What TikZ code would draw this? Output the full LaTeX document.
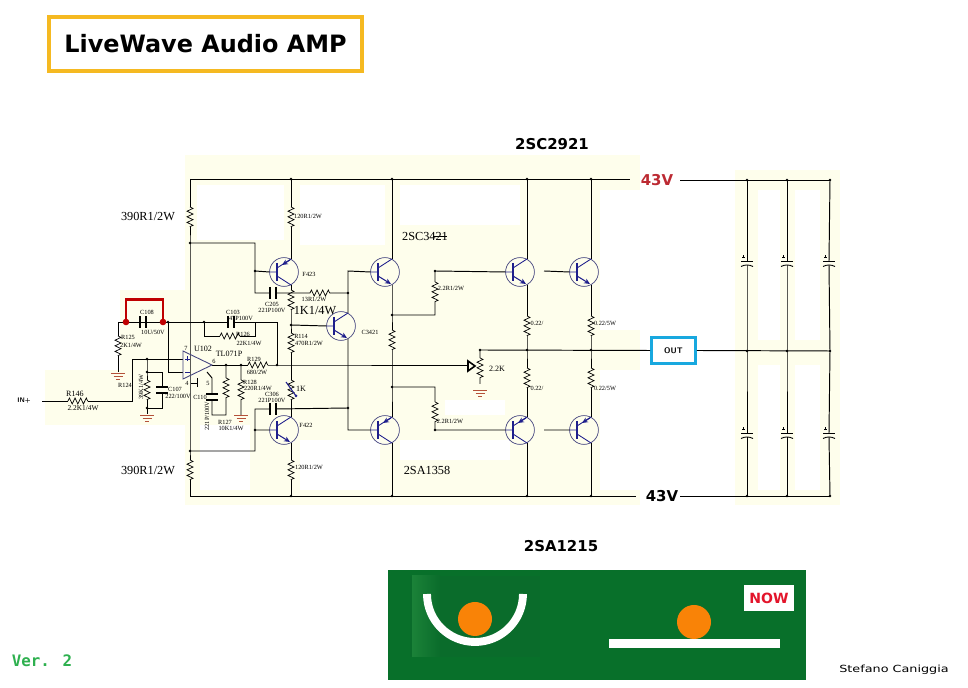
\documentclass[tikz,border=0pt]{standalone}
\usepackage{fontspec}
\setmainfont{Liberation Serif}
\newfontfamily\dejab{DejaVu Sans}
\newfontfamily\dejaw[FakeStretch=1.3]{DejaVu Sans}
\newfontfamily\dejam{DejaVu Sans Mono}
\usepackage{tkz-euclide}
\usetikzlibrary{arrows.meta,decorations.pathmorphing}
\definecolor{pale}{HTML}{FEFEEC}
\definecolor{qblue}{HTML}{1F1F8C}
\definecolor{qring}{HTML}{45457F}
\definecolor{earth}{HTML}{B5523A}
\definecolor{pcb}{HTML}{08702A}
\definecolor{pcbdark}{HTML}{0A6C2B}
\definecolor{pcblite}{HTML}{1B8238}
\definecolor{amber}{HTML}{F5B921}
\definecolor{sky}{HTML}{18A8DF}
\definecolor{vergreen}{HTML}{2EB04F}
\definecolor{ballorange}{HTML}{F98307}
\definecolor{rail}{HTML}{BC2A33}
\definecolor{nowred}{HTML}{E3152B}
\tikzset{
  wire/.style={line width=0.55pt},
  zz/.style={line width=0.4pt,decorate,decoration={zigzag,amplitude=1.7pt,segment length=3.2pt}},
  tiny/.style={inner sep=0pt,font=\fontsize{3.6}{4}\selectfont},
  small/.style={inner sep=0pt,font=\fontsize{4.6}{5}\selectfont},
  big/.style={inner sep=0pt,font=\fontsize{7}{8}\selectfont},
  head/.style={inner sep=0pt,font=\dejab\bfseries\fontsize{8.5}{10}\selectfont},
  joint/.style={circle,fill=black,inner sep=0pt,minimum size=1.6pt},
  resv/.pic={\coordinate (-a) at (0,-10); \coordinate (-b) at (0,10); \draw[zz] (-a)--(-b);},
  resh/.pic={\coordinate (-a) at (-10,0); \coordinate (-b) at (10,0); \draw[zz] (-a)--(-b);},
  caph/.pic={\coordinate (-a) at (-3,0); \coordinate (-b) at (3,0);
    \draw[line width=0.6pt] (-3,-6)--(-3,6) (3,-6)--(3,6);},
  capv/.pic={\coordinate (-a) at (0,-3); \coordinate (-b) at (0,3);
    \draw[line width=0.6pt] (-6,-3)--(6,-3) (-6,3)--(6,3);},
  capel/.pic={\coordinate (-a) at (0,-2); \coordinate (-b) at (0,2);
    \draw[line width=0.5pt] (-6,-2)--(6,-2);
    \draw[line width=0.5pt] (-6,3.5) .. controls (-2,1.5) and (2,1.5) .. (6,3.5);
    \draw[line width=0.3pt] (-5,-6)--(-2,-6) (-3.5,-7.5)--(-3.5,-4.5);},
  gnd/.pic={\draw[earth,line width=0.5pt] (-7,0)--(7,0) (-4.5,3)--(4.5,3) (-2,6)--(2,6);},
  npnq/.pic={
    \coordinate (-b) at (-14.5,0); \coordinate (-c) at (7,-13); \coordinate (-e) at (7,13);
    \draw[qring,line width=0.4pt] (0,0) circle[radius=8.2pt];
    \draw[qblue,line width=1.1pt] (-7,-9)--(-7,9);
    \draw[qblue,line width=0.5pt] (-14.5,0)--(-7,0) (-7,-4)--(-c);
    \draw[qblue,line width=0.6pt,-{Stealth[length=3.4pt,width=3pt]}] (-7,4)--(6,12);},
  pnpq/.pic={
    \coordinate (-b) at (-14.5,0); \coordinate (-e) at (7,-13); \coordinate (-c) at (7,13);
    \draw[qring,line width=0.4pt] (0,0) circle[radius=8.2pt];
    \draw[qblue,line width=1.1pt] (-7,-9)--(-7,9);
    \draw[qblue,line width=0.5pt] (-14.5,0)--(-7,0) (-7,4)--(-c) (-7,-4)--(-e);
    \draw[qblue,line width=0.6pt,-{Stealth[length=3.4pt,width=3pt]}] (6,-12)--(-2,-7);},
}
\begin{document}
\begin{tikzpicture}[x=0.02cm,y=-0.02cm]
\useasboundingbox (0,0) rectangle (968,688);
% pale patches behind the scan
\fill[pale] (120,155) rectangle (640,505);
\fill[pale] (45,370) rectangle (120,480);
\fill[pale] (735,170) rectangle (840,505);
\fill[white] (197,185) rectangle (284,240);
\fill[white] (300,185) rectangle (385,245);
\fill[white] (400,185) rectangle (520,225);
\fill[white] (600,190) rectangle (640,330);
\fill[white] (600,370) rectangle (640,490);
\fill[white] (200,425) rectangle (250,490);
\fill[white] (120,155) rectangle (185,290);
\fill[white] (45,425) rectangle (185,505);
\fill[white] (300,440) rectangle (380,490);
\fill[white] (400,440) rectangle (510,460);
\fill[white] (445,400) rectangle (505,415);
\fill[white] (758,190) rectangle (780,340);
\fill[white] (795,190) rectangle (820,340);
\fill[white] (758,365) rectangle (780,490);
\fill[white] (795,365) rectangle (820,490);

% title
\node[draw=amber,line width=2.3pt,minimum width=178pt,inner sep=0pt,
  font=\dejab\bfseries\fontsize{13.6}{16}\selectfont,minimum height=31pt] (title) at (205.5,44) {LiveWave Audio AMP};
\node[head] (type1) at (552,144) {2SC2921};
\node[head] (type2) at (561,546) {2SA1215};
\node[head,text=rail] (vplus) at (657,180) {43V};
\node[head] (vminus) at (662,496) {43V};
\node[inner sep=0pt,text=vergreen,font=\dejam\bfseries\fontsize{9}{10}\selectfont] (ver) at (42,661) {Ver. 2};
\node[inner sep=0pt,font=\dejaw\fontsize{5.6}{7}\selectfont] (sign) at (894,670) {Stefano Caniggia};

\tkzDefPoints{190/179/TL, 291/179/TA, 392/179/TB, 527/179/TC, 591/179/TD, 630/179/TE,
  190/496/BL, 291/496/BA, 392/496/BB, 527/496/BC, 591/496/BD, 636/496/BE,
  680/180/TF, 747/180/TG, 787/180/TH, 830/180/TI,
  680/496/BF, 747/496/BG, 787/496/BH, 830/496/BI,
  747/351/MG, 787/351/MH, 830/351/MI,
  190/243/Fa, 255/243/Fb, 255/271/Fc, 255/293/Fd, 190/451/Ga, 255/451/Gb, 255/430/Gc, 255/409/Gd,
  348/293/Ha, 348/271/Hb, 348/408/Hc, 348/430/Hd, 291/325/He,
  392/315/Ja, 435/315/Jb, 435/271/Jc, 392/387/Ka, 435/387/Kb, 435/430/Kc,
  527/350/La, 591/350/Lb, 480/350/Lc, 480/384/Ld, 544/271/Le, 544/430/Lf,
  212/365/Ma, 226/365/Mb, 241/365/Mc, 277/365/Md, 468/365/Me,
  277/322/Na, 204/322/Nb, 168/322/Nc, 118/322/Nd, 255/322/Ne, 204/336/Nf, 255/336/Ng,
  168/372/Pa, 183/372/Pb, 183/359/Pc, 147/359/Pd, 132/359/Pe, 132/401/Pf, 42/401/Pg,
  147/372/Qa, 162/372/Qb, 162/408/Qc, 147/408/Qd, 147/414/Qe, 118/372/Qf,
  207/372/Ra, 212/378/Rb, 212/415/Rc, 226/415/Rd, 241/415/Re,
  197/378/Sa, 197/387/Sb, 191/383/Sc,
  183/351/Ua, 183/379/Ub, 126/322/Va, 126/300/Vb, 163/300/Vc, 163/322/Vd}

% transistors
\pic (q1) at (284,272) {pnpq};
\pic (q2) at (385,272) {npnq};
\pic (q3) at (341,326) {npnq};
\pic (q4) at (385,430) {pnpq};
\pic (q5) at (284,430) {npnq};
\pic (q6) at (520,272) {npnq};
\pic (q7) at (584,272) {npnq};
\pic (q8) at (520,430) {pnpq};
\pic (q9) at (584,430) {pnpq};
% resistors
\pic (r1) at (190,217) {resv};
\pic (r2) at (190,470) {resv};
\pic (r3) at (291,217) {resv};
\pic (r4) at (291,470) {resv};
\pic (r5) at (291,300) {resv};
\pic (r6) at (291,343) {resv};
\pic (r7) at (291,390) {resv};
\pic (r8) at (320,293) {resh};
\pic (r9) at (392,340) {resv};
\pic (r10) at (435,292) {resv};
\pic (r11) at (435,412) {resv};
\pic (r12) at (527,326) {resv};
\pic (r13) at (527,378) {resv};
\pic (r14) at (591,326) {resv};
\pic (r15) at (591,378) {resv};
\pic (r16) at (480,368) {resv};
\pic (r17) at (258,365) {resh};
\pic (r18) at (230,336) {resh};
\pic (r19) at (118,346) {resv};
\pic (r20) at (78,401) {resh};
\pic (r21) at (147,390) {resv};
\pic (r22) at (226,388) {resv};
\pic (r23) at (241,390) {resv};
% capacitors
\pic (c1) at (273,293) {caph};
\pic (c2) at (273,409) {caph};
\pic (c3) at (231,322) {caph};
\pic (c4) at (143,322) {caph};
\pic (c5) at (162,390) {capv};
\pic (c6) at (212,397) {capv};
\pic (e1) at (747,263) {capel};
\pic (e2) at (787,263) {capel};
\pic (e3) at (829,263) {capel};
\pic (e4) at (747,435) {capel};
\pic (e5) at (787,435) {capel};
\pic (e6) at (829,435) {capel};
% earths
\pic at (118,373) {gnd};
\pic at (147,415) {gnd};
\pic at (241,415) {gnd};
\pic at (480,390) {gnd};

\node[draw=sky,line width=1.7pt,minimum width=25pt,minimum height=14.4pt,inner sep=0pt,
  font=\sffamily\bfseries\fontsize{4.6}{5}\selectfont] (out) at (673.5,350.5) {OUT};

\begin{scope}[wire]
\draw (TL)--(TE) (TF)--(TI) (BL)--(BE) (BF)--(BI);
\draw (TL)--(r1-a) (r1-b)--(Fa)--(Ga)--(r2-a) (r2-b)--(BL);
\draw (Fa)--(Fb)--(Fd)--(c1-a) (Fc)--(q1-b) (c1-b)--(r8-a) (r8-b)--(Ha)--(Hb)--(q2-b) (Ha)--(q3-c);
\draw (TA)--(r3-a) (r3-b)--(q1-e) (q1-c)--(r5-a) (r5-b)--(He)--(r6-a) (r6-b)--(r7-a) (r7-b)--(q5-c) (q5-e)--(r4-a) (r4-b)--(BA);
\draw (He)--(q3-b) (q3-e)--(Hc)--(Hd)--(q4-b) (Hc)--(c2-b) (c2-a)--(Gd)--(Gb)--(Ga) (Gc)--(q5-b);
\draw (TB)--(q2-c) (q2-e)--(Ja)--(r9-a) (r9-b)--(Ka)--(q4-e) (q4-c)--(BB);
\draw (Ja)--(Jb)--(r10-b) (r10-a)--(Jc)--(q6-b) (Ka)--(Kb)--(r11-a) (r11-b)--(Kc)--(q8-b);
\draw (TC)--(q6-c) (q6-e)--(r12-a) (r12-b)--(La)--(r13-a) (r13-b)--(q8-e) (q8-c)--(BC);
\draw (TD)--(q7-c) (q7-e)--(r14-a) (r14-b)--(Lb)--(r15-a) (r15-b)--(q9-e) (q9-c)--(BD);
\draw (Le)--(q7-b) (Lf)--(q9-b);
\draw (Lc)--(out.west) (out.east)--(MI) (Lc)--(r16-a) (r16-b)--(Ld);
\foreach \n/\m/\t/\c/\b in {e1/e4/TG/MG/BG, e2/e5/TH/MH/BH, e3/e6/TI/MI/BI}
  \draw (\t)--(\n-a) (\n-b)--(\c)--(\m-a) (\m-b)--(\b);
% around the op amp
\draw (Ma)--(r17-a) (r17-b)--(Md)--(Me) (Md)--(Na)--(c3-b) (c3-a)--(Nd);
\draw (c4-a)--(Nd) (c4-b)--(Nc) (Nb)--(Nf)--(r18-a) (r18-b)--(Ng)--(Ne);
\draw (Nc)--(Pa)--(Pb) (Nd)--(r19-a) (r19-b)--(Qf);
\draw (Pc)--(Pe)--(Pf)--(r20-b) (r20-a)--(Pg);
\draw (Pd)--(Qa)--(r21-a) (r21-b)--(Qe) (Qa)--(Qb)--(c5-a) (c5-b)--(Qc)--(Qd);
\draw (Ra)--(Rb)--(c6-a) (c6-b)--(Rc)--(Rd)--(r22-b) (r22-a)--(Mb) (Mc)--(r23-a) (r23-b)--(Re);
\draw (Sa)--(Sb) (Sc)--(Sb |- Sc);
\end{scope}
\draw[qring,line width=0.5pt] (Ua)--(Ma)--(Ub)--cycle;
\draw[qblue,line width=0.3pt] (185,359)--(190,359) (187.5,356.5)--(187.5,361.5) (185,372)--(190,372);
% 1K trimmer and the bias arrow
\draw[line width=0.6pt,qblue] (286,382)--(296,396);
\fill[qblue] (296,396) circle (1.5);
\draw[line width=0.9pt] (468,361)--(475,366)--(468,371)--cycle;
% jumper
\draw[red!75!black,line width=1.7pt] (Va)--(Vb)--(Vc)--(Vd);
\fill[red!75!black] (Va) circle (3.3) (Vd) circle (3.3);

\foreach \p in {TA,TB,TC,TD,BA,BB,BC,BD,TG,TH,TI,BG,BH,BI,MG,MH,MI,Fa,Ga,Fc,Gc,Hc,He,Ha,
  Ja,Ka,Jc,Kc,La,Lb,Lc,Mb,Mc,Md,Nb,Nc,Pd,Qa,Qd}
  \node[joint] at (\p) {};

% labels
\foreach \n/\x/\y/\t in {a1/148/217/{390R1/2W}, a2/148/471/{390R1/2W}, a3/315/311/{1K1/4W},
  a4/425/236/2SC3421, a5/427/470/2SA1358}
  \node[big] (\n) at (\x,\y) {\t};
\draw[line width=0.4pt] (433,236)--(447,236);
\foreach \n/\x/\y/\t in {b1/308/216/{120R1/2W}, b2/309/467/{120R1/2W}, b3/309/274/F423, b4/306/425/F422,
  b5/272/304/C205, b6/272/310/221P100V, b7/314/299/{13R1/2W}, b8/370/332/C3421,
  b9/301/336/R114, b10/309/343/{470R1/2W}, b12/272/394/C306, b13/272/400/221P100V,
  b14/233/312/C103, b15/241/318/47P100V, b16/243/334/R126, b17/249/343/{22K1/4W},
  b18/147/312/C108, b19/153/332/{10U/50V}, b20/128/337/R125, b21/131/345/{2K1/4W},
  b22/451/288/{2.2R1/2W}, b23/450/421/{2.2R1/2W}, b24/537/323/{0.22/}, b25/605/323/{0.22/5W},
  b26/537/388/{0.22/}, b27/605/388/{0.22/5W}, b28/175/389/C107, b29/178/396/{222/100V},
  b30/125/385/R124, b31/200/397/C110, b32/225/422/R127, b33/231/428/{10K1/4W},
  b34/250/382/R128, b35/258/388/{220R1/4W}, b36/254/359/R129, b37/257/372/{680/2W},
  b38/186/348/7, b39/214/361/6, b40/187/383/4, b41/208/383/5}
  \node[tiny] (\n) at (\x,\y) {\t};
\node[small] (u1) at (203,349) {U102};
\node[small] (u2) at (229,354) {TL071P};
\node[small] (k1) at (301,389) {1K};
\node[small] (k2) at (497,369) {2.2K};
\node[small] (r146) at (75,394) {R146};
\node[small,font=\fontsize{4.2}{5}\selectfont] (r146v) at (83,408) {2.2K1/4W};
\node[small,font=\sffamily\bfseries\fontsize{3.8}{5}\selectfont] (in) at (24,401) {IN+};
\node[tiny,rotate=90] (c110v) at (207,416) {221P/100V};
\node[tiny,rotate=90] (r124v) at (141,387) {39K1/4W};

% bottom panel
\fill[pcb] (388,570) rectangle (806,680);
\fill[pcbdark] (410,576) rectangle (540,657);
\shade[left color=pcblite,right color=pcbdark] (412,576) rectangle (440,657);
\draw[white,line width=4.5pt] (427,594) arc[start angle=180,end angle=360,radius=0.96cm];
\fill[ballorange] (475,619) circle (17);
\fill[ballorange] (694,622) circle (17);
\fill[white] (609,639) rectangle (780,648);
\node[fill=white,text=nowred,inner sep=0pt,minimum width=28.4pt,minimum height=14.7pt,
  font=\dejab\bfseries\fontsize{8}{10}\selectfont] (now) at (769,598) {NOW};
\end{tikzpicture}
\end{document}
